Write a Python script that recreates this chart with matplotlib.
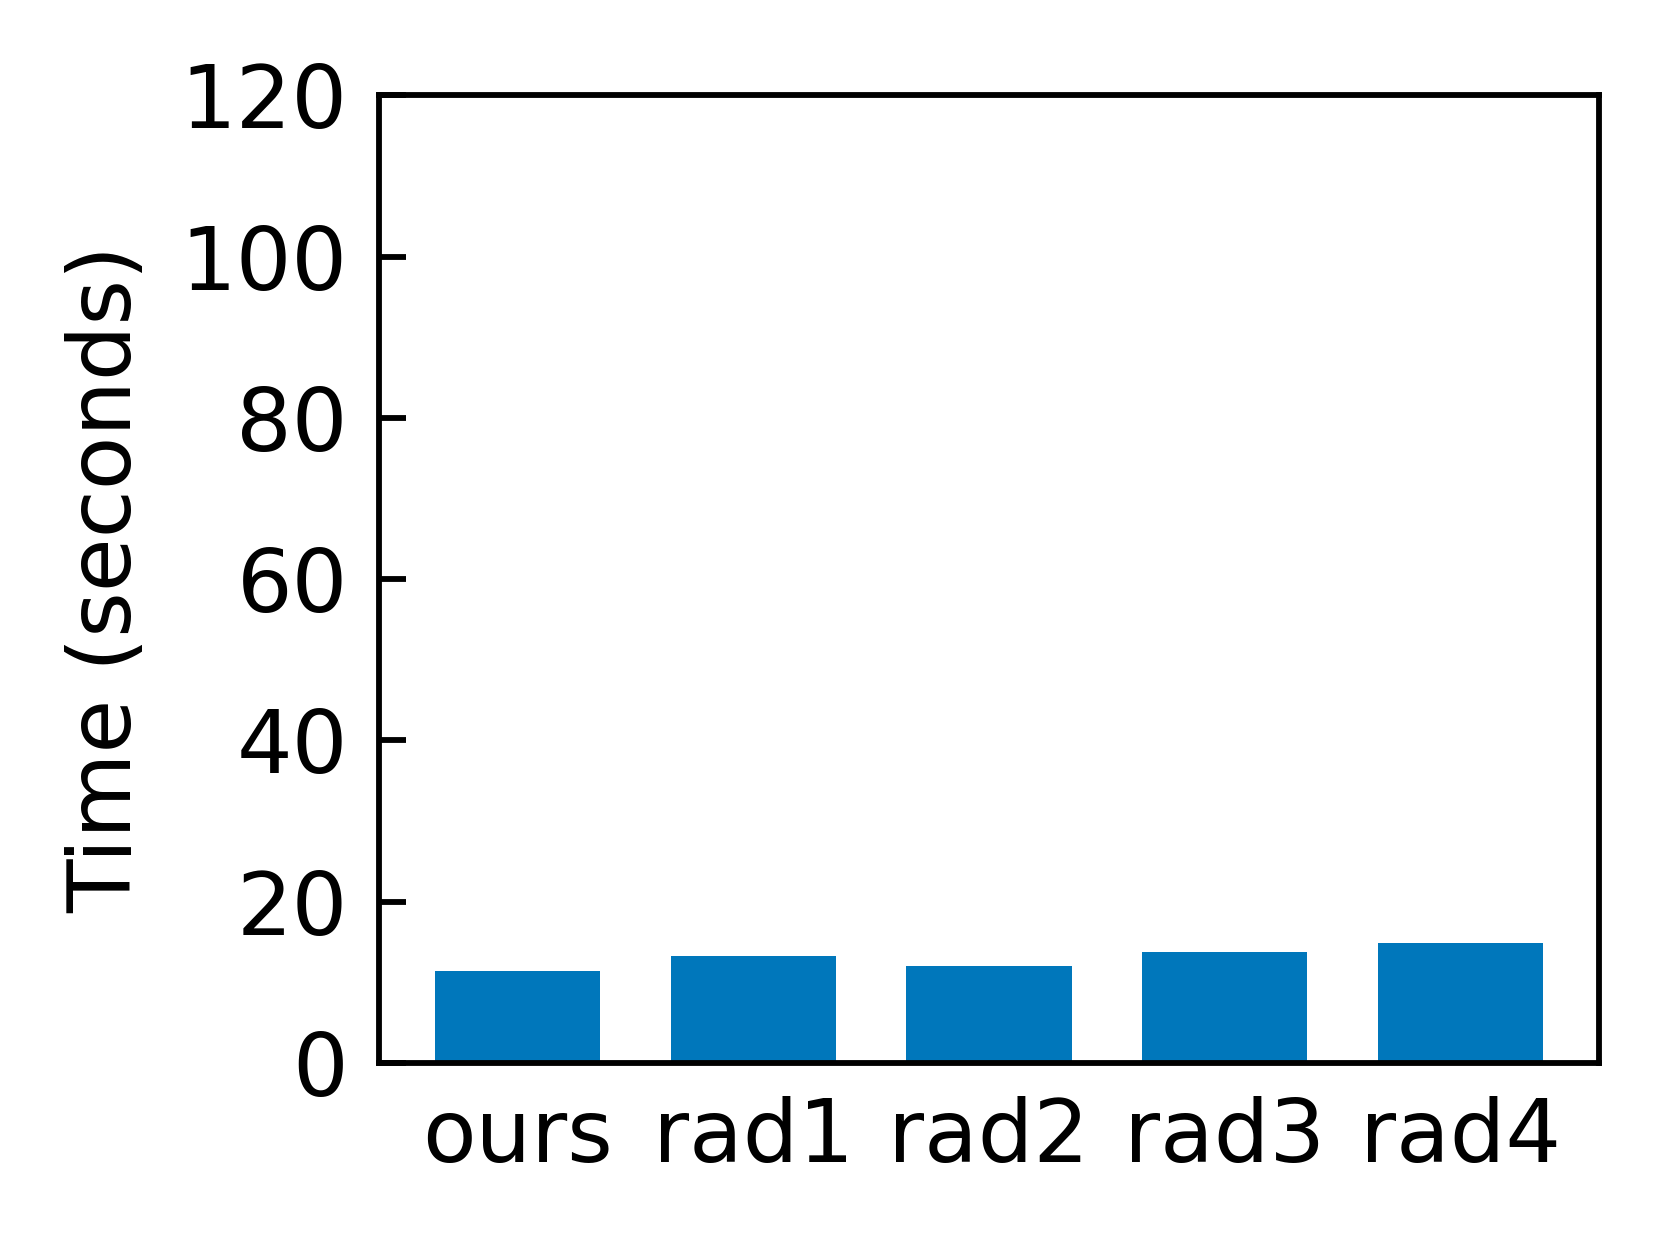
import matplotlib
matplotlib.use("Agg")
import matplotlib.pyplot as plt

categories = ["ours", "rad1", "rad2", "rad3", "rad4"]
times = [11.4, 13.3, 12.0, 13.8, 14.9]
yticks = [0, 20, 40, 60, 80, 100, 120]

plt.rcParams['font.family'] = ['DejaVu Sans']
fig = plt.figure(figsize=(1662/300, 1243/300), dpi=300)
ax = fig.add_axes([0.2283, 0.1448, 0.9618-0.2283, 0.9233-0.1448])

x = list(range(len(categories)))
ax.bar(x, times, width=0.7, color='#0077BB')
ax.set_xticks(x)
ax.set_xticklabels(categories)
ax.set_ylim(0, 120)
ax.set_yticks(yticks)
ax.set_ylabel("Time (seconds)", fontsize=21, labelpad=7.5)
ax.tick_params(axis='y', direction='in', length=6.4, width=1.4, labelsize=21, pad=7.6)
ax.tick_params(axis='x', length=0, labelsize=21, pad=8)
for s in ax.spines.values():
    s.set_linewidth(1.4)

fig.savefig("out.png", dpi=300)
